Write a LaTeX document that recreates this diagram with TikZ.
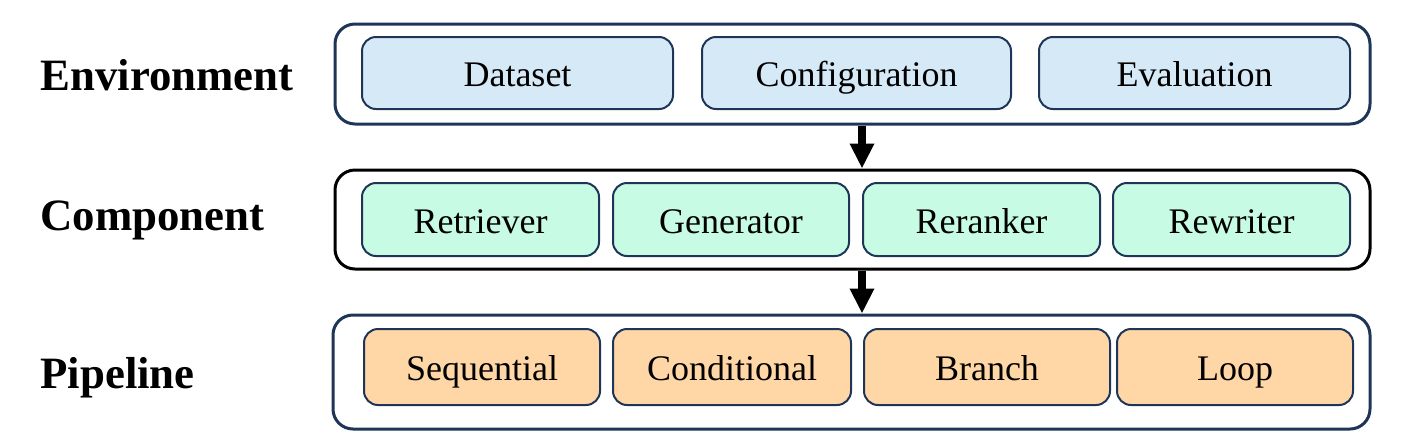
\documentclass[tikz,border=0pt]{standalone}
\usepackage{fontspec}
\setmainfont{Liberation Serif}
\usetikzlibrary{arrows.meta}
\definecolor{envfill}{HTML}{D6E9F6}
\definecolor{compfill}{HTML}{C7FBE3}
\definecolor{pipefill}{HTML}{FFD7A7}
\definecolor{navy}{HTML}{1F3558}
\begin{document}
\begin{tikzpicture}[>={Triangle[width=11.5pt,length=12.5pt]}, x=0.5pt, y=-0.5pt]

\tikzstyle{layer}=[draw=navy, line width=1.5pt, rounded corners=10pt, minimum width=517.5pt]
\tikzstyle{part}=[draw=navy, line width=1pt, rounded corners=7pt, font=\fontsize{18}{20}\selectfont, text height=13.5pt, text depth=0pt]
\tikzstyle{envpart}=[part, fill=envfill, minimum height=36pt]
\tikzstyle{comppart}=[part, fill=compfill, minimum height=36.5pt]
\tikzstyle{pipepart}=[part, fill=pipefill, minimum height=38pt]
\tikzstyle{title}=[anchor=base west, inner sep=0pt, font=\fontsize{22.4}{24}\selectfont\bfseries]
\tikzstyle{flow}=[->, line width=4pt]

\useasboundingbox (0,0) rectangle (1421,441);

% --- layer frames ---
\node[layer, minimum height=50pt] (envbox) at (852.5,74) {};
\node[layer, draw=black, minimum height=49.5pt] (compbox) at (852.5,219.5) {};
\node[layer, minimum width=518.5pt, minimum height=57pt] (pipebox) at (851.5,372) {};

% --- environment ---
\node[envpart, minimum width=155.5pt] (dataset) at (517.5,73) {Dataset};
\node[envpart, minimum width=154.5pt] (config) at (856.5,73) {Configuration};
\node[envpart, minimum width=155.5pt] (evaluation) at (1194.5,73) {Evaluation};

% --- component ---
\node[comppart, minimum width=118.5pt] (retriever) at (480.5,219.5) {Retriever};
\node[comppart, minimum width=118pt] (generator) at (731,219.5) {Generator};
\node[comppart, minimum width=118.5pt] (reranker) at (981.5,219.5) {Reranker};
\node[comppart, minimum width=118.5pt] (rewriter) at (1231.5,219.5) {Rewriter};

% --- pipeline ---
\node[pipepart, minimum width=118pt] (sequential) at (482,367) {Sequential};
\node[pipepart, minimum width=119pt] (conditional) at (732,367) {Conditional};
\node[pipepart, minimum width=123pt] (branch) at (987,367) {Branch};
\node[pipepart, minimum width=118pt] (loop) at (1235,367) {Loop};

% --- layer names ---
\node[title] (envlabel) at (40,90) {Environment};
\node[title] (complabel) at (40,230) {Component};
\node[title] (pipelabel) at (40,388) {Pipeline};

% --- arrows between layers ---
\draw[flow] ([xshift=4.75pt]envbox.south) -- ([xshift=4.75pt]compbox.north);
\draw[flow] ([xshift=4.75pt]compbox.south) -- ([xshift=5.25pt]pipebox.north);

\end{tikzpicture}
\end{document}
